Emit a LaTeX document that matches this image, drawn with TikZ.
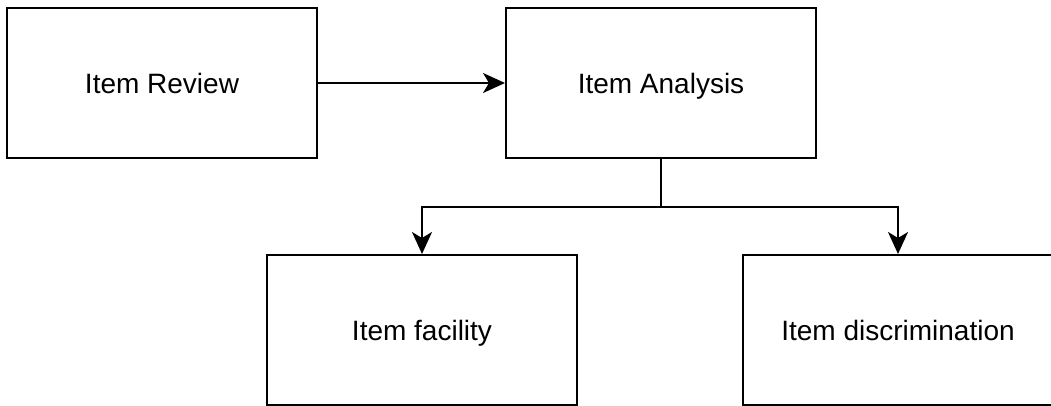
\documentclass[tikz,border=0pt]{standalone}
\usepackage{fontspec}
\setmainfont{Liberation Sans}
\usetikzlibrary{arrows.meta}
\begin{document}
\begin{tikzpicture}[x=1pt,y=-1pt,
  box/.style={draw=black, line width=2pt, minimum width=310pt, minimum height=150pt, inner sep=0pt, text height=21pt, text depth=0pt, font=\fontsize{28}{34}\selectfont},
  conn/.style={line width=2pt, -{Stealth[length=22pt,width=20pt,inset=6pt]}}]
\useasboundingbox (0,0) rectangle (1051,406);
\node[box] (review) at (162,83) {Item Review};
\node[box] (analysis) at (661,83) {Item Analysis};
\node[box] (facility) at (422,330) {Item facility};
\node[box] (discr) at (898,330) {Item discrimination};
\coordinate (split) at (661,207);
\draw[conn] (review.east) -- (analysis.west);
\draw[line width=2pt] (analysis.south) -- (split);
\draw[conn] (split) -| (facility.north);
\draw[conn] (split) -| (discr.north);
\end{tikzpicture}
\end{document}
